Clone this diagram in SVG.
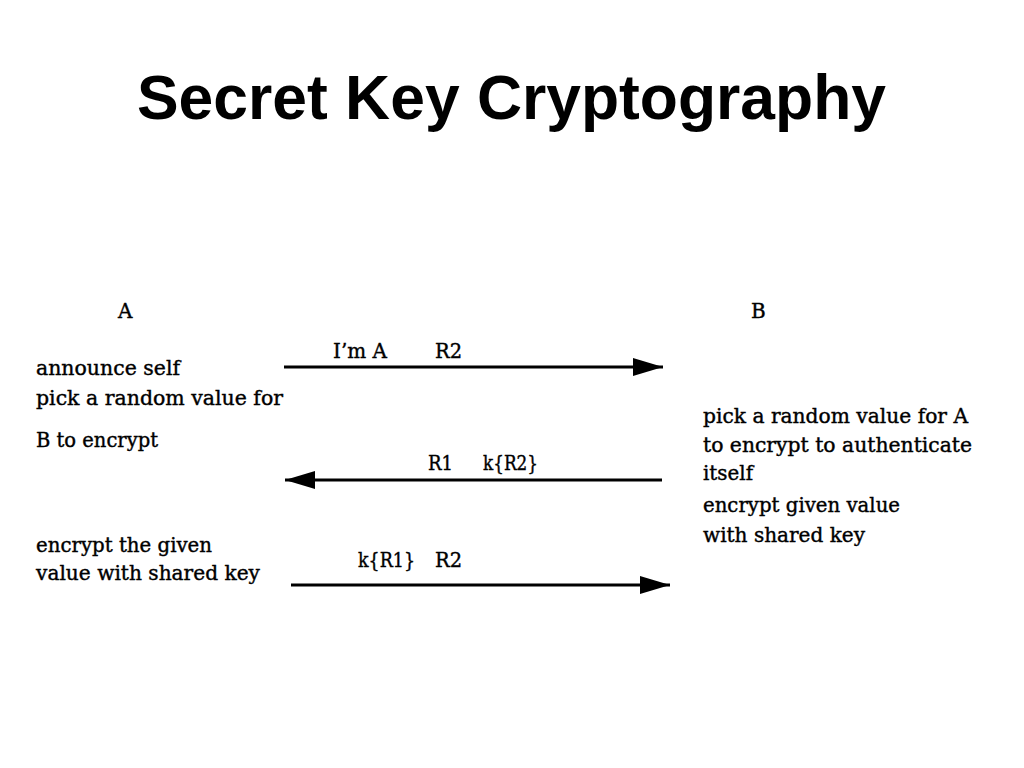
<svg xmlns="http://www.w3.org/2000/svg" width="1024" height="768" viewBox="0 0 1024 768">
<style>
.title{font-family:"Liberation Sans",Arial,sans-serif;font-weight:bold;font-size:63px;fill:#000}
.t{font-family:"DejaVu Serif","Liberation Serif",serif;font-size:20px;fill:#000;stroke:#000;stroke-width:0.4}
.line{stroke:#000;stroke-width:3;fill:none}
</style>
<defs>
<marker id="ah" viewBox="0 0 30 18" refX="30" refY="9" markerWidth="30" markerHeight="18" markerUnits="userSpaceOnUse" orient="auto">
<path d="M0,0 L30,9 L0,18 Z" fill="#000"/>
</marker>
</defs>
<rect width="1024" height="768" fill="#fff"/>
<text class="title" x="137" y="119" textLength="749" lengthAdjust="spacingAndGlyphs">Secret Key Cryptography</text>
<g id="nodeA">
<text class="t" x="118" y="318">A</text>
<text class="t" x="36" y="375" textLength="144" lengthAdjust="spacingAndGlyphs">announce self</text>
<text class="t" x="36" y="405" textLength="247" lengthAdjust="spacingAndGlyphs">pick a random value for</text>
<text class="t" x="36" y="447" textLength="122" lengthAdjust="spacingAndGlyphs">B to encrypt</text>
<text class="t" x="36" y="552" textLength="176" lengthAdjust="spacingAndGlyphs">encrypt the given</text>
<text class="t" x="36" y="580" textLength="224" lengthAdjust="spacingAndGlyphs">value with shared key</text>
</g>
<g id="nodeB">
<text class="t" x="751" y="318">B</text>
<text class="t" x="703" y="423" textLength="265" lengthAdjust="spacingAndGlyphs">pick a random value for A</text>
<text class="t" x="703" y="452" textLength="269" lengthAdjust="spacingAndGlyphs">to encrypt to authenticate</text>
<text class="t" x="703" y="480" textLength="50" lengthAdjust="spacingAndGlyphs">itself</text>
<text class="t" x="703" y="512" textLength="197" lengthAdjust="spacingAndGlyphs">encrypt given value</text>
<text class="t" x="703" y="542" textLength="162" lengthAdjust="spacingAndGlyphs">with shared key</text>
</g>
<g id="connectors">
<line class="line" x1="284" y1="367" x2="663" y2="367" marker-end="url(#ah)"/>
<text class="t" x="333" y="358" textLength="54" lengthAdjust="spacingAndGlyphs">I’m A</text>
<text class="t" x="435" y="358" textLength="27" lengthAdjust="spacingAndGlyphs">R2</text>
<line class="line" x1="662" y1="480" x2="285" y2="480" marker-end="url(#ah)"/>
<text class="t" x="428" y="470" textLength="25" lengthAdjust="spacingAndGlyphs">R1</text>
<text class="t" x="483" y="470" textLength="55" lengthAdjust="spacingAndGlyphs">k{R2}</text>
<line class="line" x1="291" y1="585" x2="670" y2="585" marker-end="url(#ah)"/>
<text class="t" x="358" y="567" textLength="57" lengthAdjust="spacingAndGlyphs">k{R1}</text>
<text class="t" x="435" y="567" textLength="27" lengthAdjust="spacingAndGlyphs">R2</text>
</g>
</svg>
